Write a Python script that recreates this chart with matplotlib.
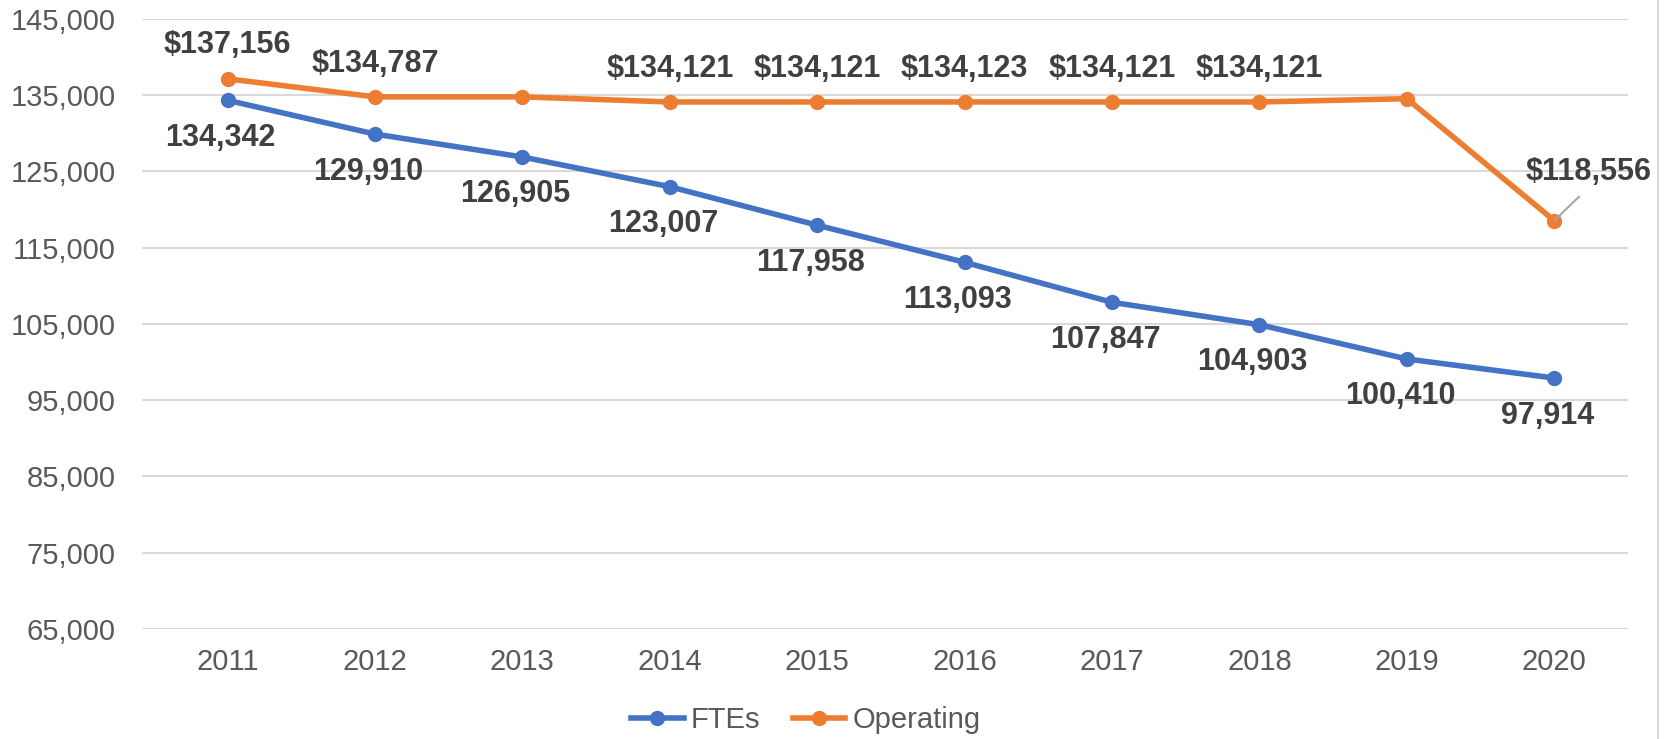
import matplotlib.pyplot as plt
from matplotlib.lines import Line2D

years = ["2011", "2012", "2013", "2014", "2015", "2016", "2017", "2018", "2019", "2020"]
ftes = [134342, 129910, 126905, 123007, 117958, 113093, 107847, 104903, 100410, 97914]
operating = [137156, 134787, 134787, 134121, 134121, 134123, 134121, 134121, 134550, 118556]
op_labels = ["$137,156", "$134,787", None, "$134,121", "$134,121", "$134,123", "$134,121", "$134,121", None, "$118,556"]
yticks = [65000, 75000, 85000, 95000, 105000, 115000, 125000, 135000, 145000]

plt.rcParams['font.family'] = ['Liberation Sans', 'DejaVu Sans']

fig = plt.figure(figsize=(16.65, 7.39), dpi=100)
ax = fig.add_axes([142/1665, 1 - 629/739, (1628-142)/1665, (629-19)/739])

blue = '#4472C4'
orange = '#ED7D31'
x = list(range(len(years)))

ax.plot(x, ftes, color=blue, lw=4, marker='o', ms=10, label='FTEs', zorder=3)
ax.plot(x, operating, color=orange, lw=4, marker='o', ms=10, label='Operating', zorder=3)

ax.set_ylim(65000, 145000)
ax.set_xlim(-0.58, 9.5)
ax.set_yticks(yticks)
ax.set_yticklabels([f"{v:,}" for v in yticks])
ax.set_xticks(x)
ax.set_xticklabels(years)
ax.grid(axis='y', color='#D9D9D9', lw=1.5)
ax.set_axisbelow(True)
for s in ax.spines.values():
    s.set_visible(False)
ax.tick_params(axis='both', length=0, labelsize=21, colors='#595959')
ax.tick_params(axis='y', pad=19)
ax.tick_params(axis='x', pad=14)

lab_kw = dict(fontsize=22, fontweight='bold', color='#404040', ha='center', va='center')
for i, v in enumerate(ftes):
    ax.annotate(f"{v:,}", (i, v), xytext=(-5, -27), textcoords='offset points', **lab_kw)
for i, (v, t) in enumerate(zip(operating, op_labels)):
    if t is None:
        continue
    if i == len(operating) - 1:
        ax.annotate(t, (i, v), xytext=(25, 35), textcoords='offset points',
                    arrowprops=dict(arrowstyle='-', color='#A6A6A6', lw=1.5, shrinkA=7, shrinkB=0,
                                    relpos=(0.5, 0.0)), **lab_kw)
    else:
        ax.annotate(t, (i, v), xytext=(0, 24), textcoords='offset points', **lab_kw)

leg = fig.legend(loc='center', bbox_to_anchor=(0.484, 1 - 720/739), ncol=2, frameon=False,
                 fontsize=21, handlelength=1.8, columnspacing=1.1, handletextpad=0.25)
for t in leg.get_texts():
    t.set_color('#595959')

fig.add_artist(Line2D([1658/1665, 1658/1665], [0, 1], color='#D9D9D9', lw=1.5, transform=fig.transFigure))

fig.savefig('out.png', dpi=100)
